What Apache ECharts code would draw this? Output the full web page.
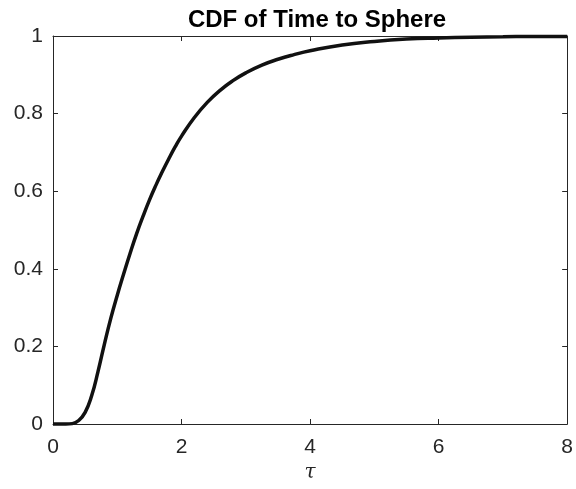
<!DOCTYPE html>
<html>
<head>
<meta charset="utf-8">
<script src="https://cdn.jsdelivr.net/npm/echarts@6/dist/echarts.min.js"></script>
<style>html,body{margin:0;padding:0;background:#fff}#c{width:576px;height:489px}</style>
</head>
<body>
<div id="c"></div>
<script>
const tau = [0, 0.1, 0.2, 0.3, 0.4, 0.5, 0.6, 0.7, 0.8, 0.9, 1.0, 1.1, 1.2, 1.3, 1.4, 1.5, 1.6, 1.7, 1.8, 1.9, 2.0, 2.2, 2.4, 2.6, 2.8, 3.0, 3.25, 3.5, 3.75, 4.0, 4.5, 5.0, 5.5, 6.0, 6.5, 7.0, 7.5, 8.0];
const cdf = [0, 0, 0, 0.001, 0.009, 0.03, 0.072, 0.135, 0.206, 0.273, 0.332, 0.387, 0.44, 0.49, 0.535, 0.577, 0.615, 0.65, 0.683, 0.714, 0.742, 0.79, 0.829, 0.86, 0.885, 0.905, 0.925, 0.94, 0.952, 0.962, 0.977, 0.986, 0.992, 0.995, 0.997, 0.998, 0.999, 0.999];
const xTicks = [0, 2, 4, 6, 8];
const yTicks = [0, 0.2, 0.4, 0.6, 0.8, 1];
const titleText = 'CDF of Time to Sphere';
const xLabel = 'τ';

const axisCol = '#262626';
const chart = echarts.init(document.getElementById('c'), null, {renderer: 'canvas'});
const fmtY = v => (v === 0 || v === 1) ? String(v) : v.toFixed(1);
chart.setOption({
  animation: false,
  title: {
    text: titleText,
    left: 312, top: 3,
    textAlign: 'center',
    textStyle: {fontFamily: 'Liberation Sans, Arial', fontWeight: 'bold', fontSize: 24, color: '#000'}
  },
  grid: {left: 53, right: 6, top: 36, bottom: 65, show: false},
  xAxis: [{
    type: 'value', min: 0, max: 8, interval: 2, position: 'bottom',
    name: xLabel, nameLocation: 'middle', nameGap: 38,
    nameTextStyle: {fontFamily: 'DejaVu Serif, serif', fontStyle: 'italic', fontSize: 20, color: axisCol},
    axisLine: {show: true, onZero: false, lineStyle: {color: axisCol, width: 1}},
    axisTick: {show: true, inside: true, length: 5, lineStyle: {color: axisCol}},
    axisLabel: {margin: 13, fontFamily: 'Liberation Sans, Arial', fontSize: 21, color: axisCol,
      formatter: v => xTicks.includes(v) ? String(v) : ''},
    splitLine: {show: false}
  }, {
    type: 'value', min: 0, max: 8, interval: 2, position: 'top',
    axisLine: {show: true, onZero: false, lineStyle: {color: axisCol, width: 1}},
    axisTick: {show: true, inside: true, length: 5, lineStyle: {color: axisCol}},
    axisLabel: {show: false}, splitLine: {show: false}
  }],
  yAxis: [{
    type: 'value', min: 0, max: 1, interval: 0.2, position: 'left',
    axisLine: {show: true, onZero: false, lineStyle: {color: axisCol, width: 1}},
    axisTick: {show: true, inside: true, length: 5, lineStyle: {color: axisCol}},
    axisLabel: {margin: 10, fontFamily: 'Liberation Sans, Arial', fontSize: 21, color: axisCol, formatter: fmtY},
    splitLine: {show: false}
  }, {
    type: 'value', min: 0, max: 1, interval: 0.2, position: 'right',
    axisLine: {show: true, onZero: false, lineStyle: {color: axisCol, width: 1}},
    axisTick: {show: true, inside: true, length: 5, lineStyle: {color: axisCol}},
    axisLabel: {show: false}, splitLine: {show: false}
  }],
  series: [{
    type: 'line',
    data: tau.map((t, i) => [t, cdf[i]]),
    smooth: 0.5,
    showSymbol: false,
    lineStyle: {color: '#111', width: 3.5},
    clip: false
  }]
});
</script>
</body>
</html>
